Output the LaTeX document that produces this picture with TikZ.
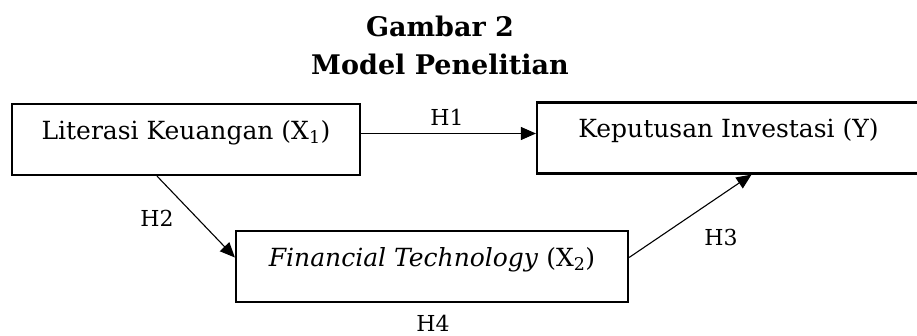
\documentclass[tikz,border=0pt]{standalone}
\usepackage{fontspec}
\setmainfont{DejaVu Serif}
\usetikzlibrary{arrows.meta,positioning,calc}

\begin{document}
\begin{tikzpicture}[x=1pt, y=1pt, every node/.style={font=\fontsize{22}{26}\selectfont},
  varbox/.style={draw, line width=2.2pt, minimum height=71pt, text height=20pt, text depth=20pt, inner xsep=0pt, font=\fontsize{25}{30}\selectfont},
  titletext/.style={anchor=base, font=\bfseries\fontsize{27}{32}\selectfont},
  arr/.style={-{Triangle[length=15pt,width=13pt]}, line width=1.1pt}]
\useasboundingbox (0,0) rectangle (917,335);
% Title
\node[titletext] (title1) at (440,298) {Gambar 2};
\node[titletext] (title2) at (440,260) {Model Penelitian};
% Variables
\node[varbox, minimum width=348pt] (lit) at (186,195.5) {Literasi Keuangan (X\textsubscript{1})};
\node[varbox, minimum width=383pt] (kep) at (728.5,197) {Keputusan Investasi (Y)};
\node[varbox, minimum width=392pt] (fin) at (432,68.5) {\textit{Financial Technology} (X\textsubscript{2})};
% Hypotheses
\coordinate (h1s) at ([yshift=6pt]lit.east);
\draw[arr] (h1s) -- (h1s -| kep.west);
\draw[arr] ([xshift=-29pt]lit.south) -- ([yshift=9pt]fin.west);
\draw[arr] ([yshift=9pt]fin.east) -- ([xshift=23pt]kep.south);
\node (h1) at (447,218) {H1};
\node (h2) at (157,117) {H2};
\node (h3) at (721,98) {H3};
\node (h4) at (433,12) {H4};
\end{tikzpicture}
\end{document}
